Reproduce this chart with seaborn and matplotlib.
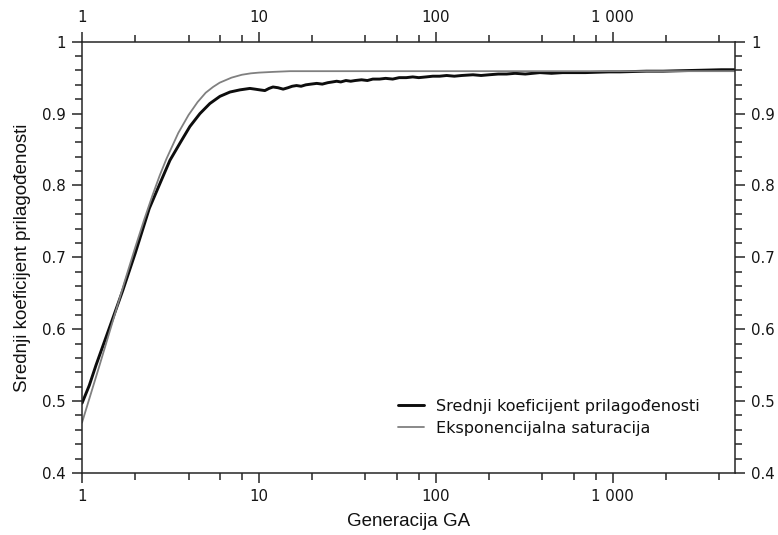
import numpy as np
import pandas as pd
import matplotlib
matplotlib.use("Agg")
import matplotlib.pyplot as plt
import matplotlib.ticker as mticker
import seaborn as sns

# ---- data ----
gen_mean = [1, 1.1, 1.2, 1.4, 1.7, 2.0, 2.4, 2.76, 3.14, 3.58, 4.07, 4.64, 5.28, 6.02,
            6.86, 7.81, 8.89, 9.5, 10.1, 10.8, 11.4, 12.0, 12.8, 13.7, 14.6, 15.4, 16.3,
            17.3, 18.4, 19.7, 21.2, 22.8, 24.5, 26, 27.5, 29, 31, 33, 35, 38, 41, 44, 48,
            52, 57, 62, 68, 74, 80, 88, 96, 105, 115, 127, 140, 162, 180, 200, 225, 251,
            280, 320, 387, 450, 520, 600, 700, 809, 950, 1100, 1300, 1550, 1923, 2300,
            2800, 3400, 4100, 4900]
fit_mean = [0.497, 0.522, 0.550, 0.596, 0.654, 0.706, 0.768, 0.803, 0.835, 0.859, 0.882,
            0.900, 0.914, 0.924, 0.930, 0.933, 0.935, 0.934, 0.933, 0.932, 0.935, 0.937,
            0.936, 0.934, 0.936, 0.938, 0.939, 0.938, 0.940, 0.941, 0.942, 0.941, 0.943,
            0.944, 0.945, 0.944, 0.946, 0.945, 0.946, 0.947, 0.946, 0.948, 0.948, 0.949,
            0.948, 0.950, 0.950, 0.951, 0.950, 0.951, 0.952, 0.952, 0.953, 0.952, 0.953,
            0.954, 0.953, 0.954, 0.955, 0.955, 0.956, 0.955, 0.957, 0.956, 0.957, 0.957,
            0.957, 0.9575, 0.958, 0.958, 0.9585, 0.959, 0.959, 0.9595, 0.960, 0.9605,
            0.961, 0.961]

gen_exp = [1, 1.25, 1.5, 1.75, 2, 2.25, 2.5, 2.75, 3, 3.5, 4, 4.5, 5, 5.5, 6, 7, 8, 9,
           10, 12, 15, 20, 50, 100, 1000, 4900]
fit_exp = [0.470, 0.548, 0.613, 0.668, 0.714, 0.753, 0.786, 0.814, 0.837, 0.873, 0.898,
           0.916, 0.929, 0.937, 0.943, 0.950, 0.954, 0.956, 0.957, 0.958, 0.959, 0.959,
           0.959, 0.959, 0.959, 0.959]

label_mean = "Srednji koeficijent prilagođenosti"
label_exp = "Eksponencijalna saturacija"
x_major = [1, 10, 100, 1000]
x_major_labels = ["1", "10", "100", "1 000"]
x_minor = [2, 4, 6, 8, 20, 40, 60, 80, 200, 400, 600, 800, 2000, 4000]
y_major = [0.4, 0.5, 0.6, 0.7, 0.8, 0.9, 1.0]
y_major_labels = ["0.4", "0.5", "0.6", "0.7", "0.8", "0.9", "1"]

df_mean = pd.DataFrame({"gen": gen_mean, "fit": fit_mean})
df_exp = pd.DataFrame({"gen": gen_exp, "fit": fit_exp})

sns.set_style("ticks")
plt.rcParams["font.family"] = ["DejaVu Sans"]

fig = plt.figure(figsize=(7.78, 5.35), dpi=100)
ax = fig.add_axes([82 / 778, 1 - 473 / 535, (735 - 82) / 778, (473 - 41.7) / 535])

sns.lineplot(data=df_mean, x="gen", y="fit", ax=ax, color="#0d0d0d", lw=2.1,
             estimator=None, label=label_mean)
sns.lineplot(data=df_exp, x="gen", y="fit", ax=ax, color="#808080", lw=1.3,
             estimator=None, label=label_exp)

ax.set_xscale("log")
ax.set_xlim(1, 4900)
ax.set_ylim(0.4, 1.0)

ax.xaxis.set_major_locator(mticker.FixedLocator(x_major))
ax.xaxis.set_major_formatter(mticker.FixedFormatter(x_major_labels))
ax.xaxis.set_minor_locator(mticker.FixedLocator(x_minor))
ax.xaxis.set_minor_formatter(mticker.NullFormatter())
ax.yaxis.set_major_locator(mticker.FixedLocator(y_major))
ax.yaxis.set_major_formatter(mticker.FixedFormatter(y_major_labels))
ax.yaxis.set_minor_locator(mticker.MultipleLocator(0.02))

spine_c = "#262626"
for s in ax.spines.values():
    s.set_visible(True)
    s.set_color(spine_c)
    s.set_linewidth(1.1)

ax.tick_params(which="both", direction="out", top=True, right=True,
               labeltop=True, labelright=True, color=spine_c, width=1.1)
ax.tick_params(which="major", length=7.2, labelsize=10.8, labelcolor="#151515", pad=4.5)
ax.tick_params(which="minor", length=4.8)

lab_font = dict(family=["Liberation Sans", "DejaVu Sans"], size=13.5, color="#111111")
ax.set_xlabel("Generacija GA", labelpad=6, **lab_font)
ax.set_ylabel("Srednji koeficijent prilagođenosti", **lab_font)
ax.yaxis.set_label_coords(-0.078, 0.5)

leg = ax.legend(loc="upper left", bbox_to_anchor=(0.484, 0.172), frameon=False,
                borderaxespad=0, borderpad=0, handlelength=1.6, handletextpad=0.75,
                labelspacing=0.42, prop=dict(family="DejaVu Sans", size=11.5))
for t in leg.get_texts():
    t.set_color("#111111")

fig.savefig("out.png", dpi=100)
